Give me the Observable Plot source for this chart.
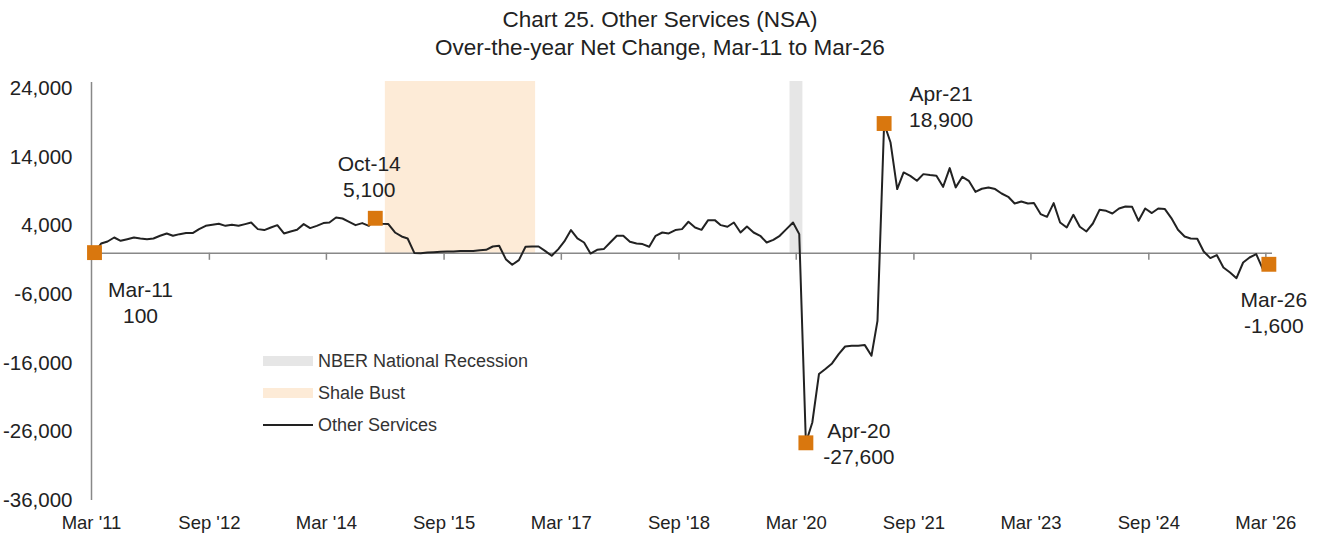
<!DOCTYPE html>
<html><head><meta charset="utf-8">
<script src="https://cdn.jsdelivr.net/npm/d3@7"></script>
<script src="https://cdn.jsdelivr.net/npm/@observablehq/plot@0.6"></script>
<style>
body{margin:0;background:#fff;}
#wrap{position:relative;width:1320px;height:537px;overflow:hidden;}
#title{height:62px;box-sizing:border-box;padding-top:6px;text-align:center;font-family:"Liberation Sans",Arial,sans-serif;font-size:22.5px;line-height:28px;color:#222;}
.lg{position:absolute;left:263px;height:20px;display:flex;align-items:center;font-family:"Liberation Sans",Arial,sans-serif;font-size:18px;color:#333;}
.sw{width:50px;height:10px;margin-right:5px;}
.ln{width:50px;height:2px;background:#222;margin-right:5px;}
</style></head>
<body>
<div id="wrap">
<div id="title">Chart 25. Other Services (NSA)<br>Over-the-year Net Change, Mar-11 to Mar-26</div>
<div id="chart"></div>
<div class="lg" style="top:351px"><div class="sw" style="background:#e6e6e6"></div>NBER National Recession</div>
<div class="lg" style="top:383px"><div class="sw" style="background:#fdebd7"></div>Shale Bust</div>
<div class="lg" style="top:415px"><div class="ln"></div>Other Services</div>
</div>
<script>
// Monthly over-the-year net change, Mar-2011 .. Mar-2026
const values = [
 100,1430,1720,2300,1820,2060,2300,2160,2060,2160,
 2550,2890,2550,2790,2940,2940,3520,4000,4150,4300,
 4000,4150,4000,4250,4490,3520,3380,3760,4100,2890,
 3180,3420,4250,3670,4000,4400,4490,5210,5070,4590,
 4100,4400,4000,5100,4300,4250,3030,2450,2160,50,
 20,120,170,220,260,280,320,320,330,460,
 510,990,1090,-850,-1670,-990,950,990,990,360,
 -360,610,1720,3380,2160,1570,-30,510,610,1570,
 2550,2550,1670,1430,1340,950,2550,3030,2890,3380,
 3520,4590,3760,3420,4830,4830,4100,3860,4490,3030,
 3900,3030,2550,1570,1960,2550,3520,4490,2790,-27600,
 -24640,-17590,-16860,-16040,-14680,-13570,-13470,-13450,-13370,-14920,
 -9830,18900,16130,9350,11770,11280,10560,11530,11390,11280,
 9680,12400,9600,11140,10560,8950,9400,9580,9350,8710,
 8230,7250,7540,7250,7310,5710,5310,7310,4490,3760,
 5610,3860,3180,4340,6330,6190,5800,6530,6810,6770,
 4730,6530,5860,6530,6440,5130,3420,2450,2160,2110,
 260,-700,-260,-2070,-2800,-3620,-1340,-610,-120,-2300,
 -1600
];
const startYear = 2011, startMonth = 2; // March 2011
const xTickLabels = ["Mar '11","Sep '12","Mar '14","Sep '15","Mar '17","Sep '18","Mar '20","Sep '21","Mar '23","Sep '24","Mar '26"];
const xTickMonths = [0,18,36,54,72,90,108,126,144,162,180];
const yTicks = [-36000,-26000,-16000,-6000,4000,14000,24000];
const highlightNames = ["Mar-11","Oct-14","Apr-20","Apr-21","Mar-26"];
const highlightMonths = [0,43,109,121,180];
const recessions = [{start:"2020-02-01", end:"2020-04-01"}];
const shaleBust = [{start:"2014-12-01", end:"2016-11-01"}];

const monthDate = (i, day) => new Date(Date.UTC(startYear, startMonth + i, day));
const series = values.map((v, i) => ({date: monthDate(i, 15), value: v}));
const tickDates = xTickMonths.map(i => monthDate(i, 1));
const tickLabelMap = new Map(tickDates.map((d, i) => [+d, xTickLabels[i]]));
const fmt = v => d3.format(",")(v).replace("\u2212", "-");
const highlights = highlightNames.map((n, k) => ({name: n, date: series[highlightMonths[k]].date, value: series[highlightMonths[k]].value}));
const band = a => a.map(d => ({start: new Date(d.start), end: new Date(d.end)}));

// label offsets (layout only)
const labelOffset = {"Mar-11":[46,49], "Oct-14":[-6,-43], "Apr-20":[53,0], "Apr-21":[57,-18], "Mar-26":[5,47]};

const font = "Liberation Sans, Arial, sans-serif";
const chart = Plot.plot({
  width: 1320, height: 475,
  marginLeft: 91, marginRight: 48, marginTop: 26, marginBottom: 37,
  style: {fontFamily: font, fontSize: "18px", color: "#222", background: "#fff", overflow: "visible"},
  x: {type: "utc", domain: [monthDate(0, 1), monthDate(181, 1)], label: null},
  y: {domain: [-36000, 24000], label: null},
  marks: [
    Plot.rect(band(shaleBust), {x1: "start", x2: "end", y1: 0, y2: 24000, fill: "#fdebd7", insetTop: -7}),
    Plot.rect(band(recessions), {x1: "start", x2: "end", y1: 0, y2: 24000, fill: "#e6e6e6", insetTop: -7}),
    Plot.ruleY([0], {stroke: "#888", strokeWidth: 1.5}),
    Plot.ruleX(tickDates, {x: d => d, y1: 0, y2: 0, insetTop: 7, stroke: "#888", strokeWidth: 1.5}),
    Plot.ruleX([monthDate(0, 1)], {x: d => d, insetTop: -6, stroke: "#888", strokeWidth: 1.5}),
    Plot.axisY({ticks: yTicks, tickSize: 0, tickPadding: 19, tickFormat: fmt, fontSize: 20.5, fill: "#222"}),
    Plot.axisX({ticks: tickDates, tickSize: 0, tickPadding: 15, tickFormat: d => tickLabelMap.get(+d), fontSize: 18.5, fill: "#222"}),
    Plot.line(series, {x: "date", y: "value", stroke: "#222", strokeWidth: 2}),
    Plot.dot(highlights, {x: "date", y: "value", symbol: "square", r: 8.4, fill: "#d9770e"}),
    ...highlights.map(h => Plot.text([h], {
      x: "date", y: "value", text: d => d.name + "\n" + fmt(d.value),
      dx: labelOffset[h.name][0], dy: labelOffset[h.name][1],
      lineAnchor: "middle", lineHeight: 1.25, fontSize: 21, fill: "#222", fontFamily: font
    }))
  ]
});
document.getElementById("chart").append(chart);
</script>
</body></html>
